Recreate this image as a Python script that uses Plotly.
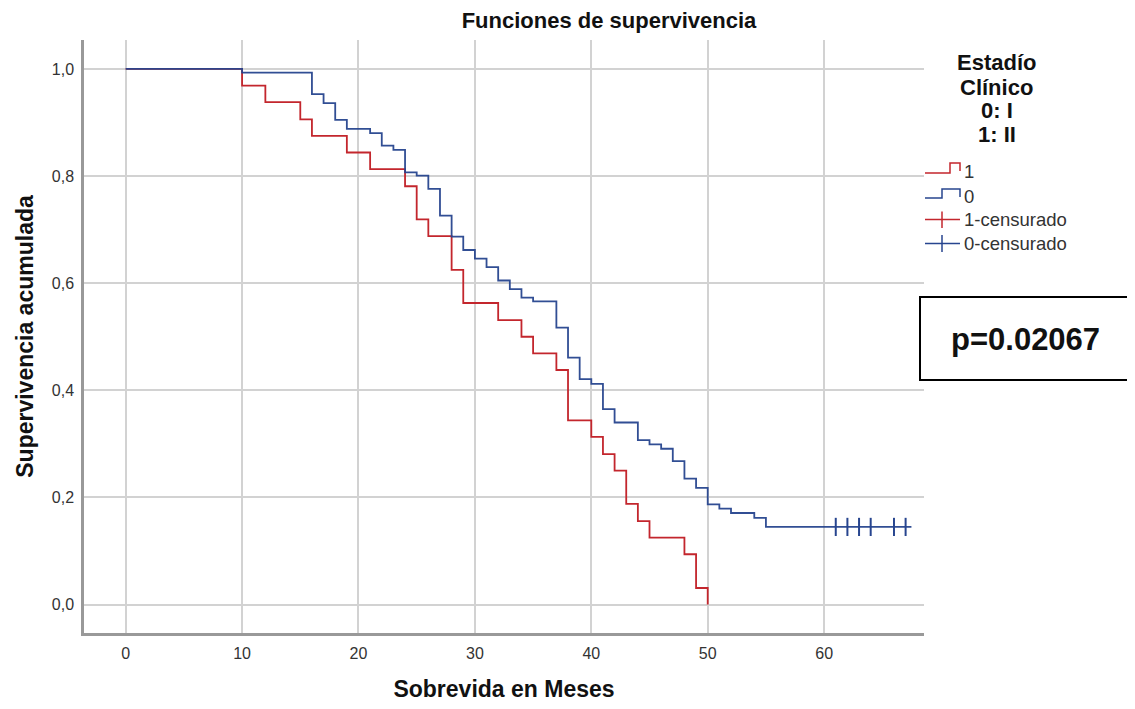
import plotly.graph_objects as go

# ---------------- data ----------------
times_red = [0, 10, 12, 15, 16, 19, 21, 24, 25, 26, 28, 29, 32, 34, 35, 37, 38, 40, 41, 42, 43, 44, 45, 48, 49, 50]
surv_red = [1.000, 0.969, 0.938, 0.906, 0.875, 0.844, 0.813, 0.781, 0.719, 0.688, 0.625, 0.563, 0.531,
            0.500, 0.469, 0.438, 0.344, 0.313, 0.281, 0.250, 0.188, 0.156, 0.125, 0.094, 0.031, 0.000]

times_blue = [0, 10, 16, 17, 18, 19, 21, 22, 23, 24, 25, 26, 27, 28, 29, 30, 31, 32, 33, 34, 35, 37, 38, 39,
              40, 41, 42, 44, 45, 46, 47, 48, 49, 50, 51, 52, 54, 55, 67.5]
surv_blue = [1.000, 0.993, 0.953, 0.936, 0.905, 0.888, 0.880, 0.857, 0.849, 0.807, 0.801, 0.776, 0.726, 0.687,
             0.662, 0.646, 0.630, 0.605, 0.589, 0.573, 0.566, 0.517, 0.461, 0.421, 0.412, 0.365, 0.340, 0.307,
             0.299, 0.291, 0.268, 0.235, 0.218, 0.187, 0.179, 0.171, 0.162, 0.145, 0.145]

cens_blue_t = [61, 62, 63, 64, 66, 67]
cens_blue_s = [0.145, 0.145, 0.145, 0.145, 0.145, 0.145]

x_ticks = [0, 10, 20, 30, 40, 50, 60]
y_ticks = [0.0, 0.2, 0.4, 0.6, 0.8, 1.0]

legend_labels = ["1", "0", "1-censurado", "0-censurado"]
legend_title_lines = ["Estadío", "Clínico", "0: I", "1: II"]
p_text = "p=0.02067"

RED = "#c3262d"
BLUE = "#27458f"
FONT = "Liberation Sans, Arial, sans-serif"

OFF = 8  # page body margin
W, H = 1135 - OFF, 709 - OFF
# plot area in reference (window) pixels
L, R, T, B = 84, 924, 40, 633


def px(xp):
    return (xp - L) / (R - L)


def py(yp):
    return (B - yp) / (B - T)


fig = go.Figure()
fig.add_trace(go.Scatter(x=times_red, y=surv_red, mode="lines", line=dict(color=RED, width=1.8, shape="hv"),
                         name="1", showlegend=False))
fig.add_trace(go.Scatter(x=times_blue, y=surv_blue, mode="lines", line=dict(color=BLUE, width=1.8, shape="hv"),
                         name="0", showlegend=False, opacity=0.95))
fig.add_trace(go.Scatter(x=cens_blue_t, y=cens_blue_s, mode="markers",
                         marker=dict(symbol="line-ns", size=13, line=dict(color=BLUE, width=2)),
                         name="0-censurado", showlegend=False))

shapes = []
annotations = []

# custom legend (step icons)
shapes.append(dict(type="path", xref="paper", yref="paper",
                   path=f"M {px(925)},{py(173)} H {px(950)} V {py(163)} H {px(960)} V {py(171)}",
                   line=dict(color=RED, width=1.5)))
shapes.append(dict(type="path", xref="paper", yref="paper",
                   path=f"M {px(925)},{py(198)} H {px(942)} V {py(189)} H {px(960)} V {py(197)}",
                   line=dict(color=BLUE, width=1.5)))
shapes.append(dict(type="line", xref="paper", yref="paper", x0=px(925), x1=px(960), y0=py(219.5), y1=py(219.5),
                   line=dict(color=RED, width=1.5)))
shapes.append(dict(type="line", xref="paper", yref="paper", x0=px(942), x1=px(942), y0=py(211.5), y1=py(228),
                   line=dict(color=RED, width=1.5)))
shapes.append(dict(type="line", xref="paper", yref="paper", x0=px(925), x1=px(960), y0=py(243.5), y1=py(243.5),
                   line=dict(color=BLUE, width=1.5)))
shapes.append(dict(type="line", xref="paper", yref="paper", x0=px(942), x1=px(942), y0=py(235), y1=py(252),
                   line=dict(color=BLUE, width=1.5)))

for lab, yy in zip(legend_labels, [171, 196, 219.5, 243.5]):
    annotations.append(dict(text=lab, xref="paper", yref="paper", x=px(962), y=py(yy), xanchor="left",
                            yanchor="middle", showarrow=False, font=dict(family=FONT, size=18.5, color="#333")))

for line_txt, yy in zip(legend_title_lines, [63, 87, 110.5, 134]):
    annotations.append(dict(text=f"<b>{line_txt}</b>", xref="paper", yref="paper", x=px(997), y=py(yy),
                            xanchor="center", yanchor="middle", showarrow=False,
                            font=dict(family=FONT, size=22, color="#111")))

# p-value box
shapes.append(dict(type="rect", xref="paper", yref="paper", x0=px(920), x1=px(1142), y0=py(380), y1=py(297),
                   line=dict(color="black", width=2), fillcolor="white"))
annotations.append(dict(text=f"<b>{p_text}</b>", xref="paper", yref="paper", x=px(1025), y=py(339),
                        xanchor="center", yanchor="middle", showarrow=False,
                        font=dict(family=FONT, size=31, color="#111")))

fig.update_layout(
    width=W, height=H,
    margin=dict(l=L - OFF, r=W - (R - OFF), t=T - OFF, b=H - (B - OFF), autoexpand=False),
    paper_bgcolor="white", plot_bgcolor="white",
    separators=",.",
    font=dict(family=FONT, color="#333"),
    title=dict(text="<b>Funciones de supervivencia</b>", xref="container", yref="container",
               x=(609 - OFF) / W, y=1 - (20 - OFF) / H, xanchor="center", yanchor="middle",
               font=dict(family=FONT, size=22, color="#111")),
    showlegend=False,
    shapes=shapes,
    annotations=annotations,
)

fig.update_xaxes(range=[-3.58, 68.58], tickvals=x_ticks, ticktext=[str(v) for v in x_ticks],
                 showgrid=True, gridcolor="#d2d2d2", gridwidth=1.5, zeroline=False,
                 showline=True, linecolor="#999", linewidth=2.5, ticks="", ticklabelstandoff=4,
                 tickfont=dict(family=FONT, size=16, color="#333"),
                 title=dict(text="<b>Sobrevida en Meses</b>", standoff=20,
                            font=dict(family=FONT, size=23, color="#111")),
                 automargin=False)
fig.update_yaxes(range=[-0.053, 1.054], tickvals=y_ticks, tickformat=".1f",
                 showgrid=True, gridcolor="#d2d2d2", gridwidth=1.5, zeroline=False,
                 showline=True, linecolor="#999", linewidth=2.5, ticks="", ticklabelstandoff=4,
                 tickfont=dict(family=FONT, size=16, color="#333"),
                 title=dict(text="<b>Supervivencia acumulada</b>", standoff=12,
                            font=dict(family=FONT, size=23, color="#111")),
                 automargin=False)

fig.write_html("out.html")
